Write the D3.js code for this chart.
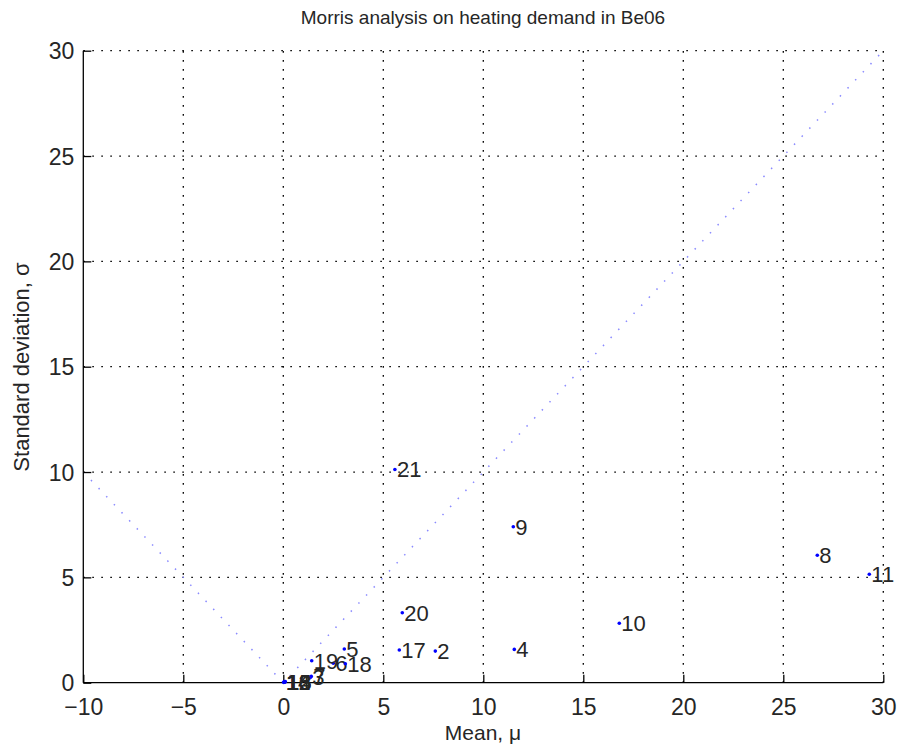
<!DOCTYPE html>
<html><head><meta charset="utf-8">
<script src="https://cdn.jsdelivr.net/npm/d3@7"></script>
<style>body{margin:0;background:#fff;} svg{display:block;font-family:"Liberation Sans",Arial,sans-serif;}</style>
</head><body>
<svg id="c" width="903" height="747"></svg>
<script>
const labels = ["1","2","3","4","5","6","7","8","9","10","11","12","13","14","15","16","17","18","19","20","21"];
const muValues = [0.05,7.6,1.35,11.55,3.05,2.5,1.4,26.7,11.5,16.8,29.3,0.05,0.1,0.02,0.08,0.05,5.8,3.1,1.42,5.95,5.58];
const sigmaValues = [0.05,1.5,0.25,1.58,1.6,0.92,0.3,6.05,7.4,2.82,5.15,0.02,0.05,0.01,0.03,0.04,1.55,0.9,1.04,3.32,10.12];
const xTicks = [-10,-5,0,5,10,15,20,25,30];
const yTicks = [0,5,10,15,20,25,30];
const refLineX = [-10,0,30];
const refLineY = [10,0,30];

const svg = d3.select("#c");
const L=83.3, R=883.3, T=50.7, B=682.7;
const x = d3.scaleLinear().domain([-10,30]).range([L,R]);
const y = d3.scaleLinear().domain([0,30]).range([B,T]);
const ink = "#262626";

// grid
const g = svg.append("g");
g.selectAll("line.gx").data(xTicks.filter(d=>d>-10)).enter().append("line")
  .attr("x1",d=>x(d)).attr("x2",d=>x(d)).attr("y1",B).attr("y2",T)
  .attr("stroke","#000").attr("stroke-width",1.3).attr("stroke-dasharray","1.6,7.4");
g.selectAll("line.gy").data(yTicks.filter(d=>d>0)).enter().append("line")
  .attr("y1",d=>y(d)).attr("y2",d=>y(d)).attr("x1",L).attr("x2",R)
  .attr("stroke","#000").attr("stroke-width",1.3).attr("stroke-dasharray","1.6,7.4");

// reference diagonal
const line = d3.line().x((d,i)=>x(refLineX[i])).y((d,i)=>y(refLineY[i]));
svg.append("path").attr("d",line(refLineX)).attr("fill","none")
  .attr("stroke","#8a8aff").attr("stroke-width",1.5).attr("stroke-dasharray","1.5,9.6");

// axes
const xAxis = d3.axisBottom(x).tickValues(xTicks).tickSize(-8).tickPadding(16)
  .tickFormat(d=>d<0?"\u2212"+Math.abs(d):d);
const gx = svg.append("g").attr("transform",`translate(0,${B})`).call(xAxis);
const yAxis = d3.axisLeft(y).tickValues(yTicks).tickSize(-8).tickPadding(9);
const gy = svg.append("g").attr("transform",`translate(${L},0)`).call(yAxis);
[gx,gy].forEach(a=>{
  a.select(".domain").attr("stroke","#000").attr("stroke-width",1.3).attr("d", a===gx?`M${L},0H${R}`:`M0,${B}V${T}`);
  a.selectAll(".tick line").attr("stroke","#000").attr("stroke-width",1.3);
  a.selectAll(".tick text").attr("fill",ink).attr("font-size",23).attr("font-family","Liberation Sans, Arial, sans-serif");
});
gx.selectAll(".tick text").attr("dy","0.71em");
gy.selectAll(".tick text").attr("dy","0.36em");

// points
const pts = svg.append("g");
labels.forEach((lab,i)=>{
  pts.append("circle").attr("cx",x(muValues[i])).attr("cy",y(sigmaValues[i])).attr("r",1.8).attr("fill","#0000ff");
  pts.append("text").attr("x",x(muValues[i])+2).attr("y",y(sigmaValues[i])).attr("dy","0.36em")
    .attr("font-size",22).attr("fill",ink).text(lab);
});

// title and labels
svg.append("text").attr("x",483).attr("y",24).attr("text-anchor","middle").attr("font-size",19).attr("fill",ink)
  .text("Morris analysis on heating demand in Be06");
svg.append("text").attr("x",483).attr("y",740).attr("text-anchor","middle").attr("font-size",21).attr("fill",ink)
  .text("Mean, \u03bc");
svg.append("text").attr("transform","translate(29,367) rotate(-90)").attr("text-anchor","middle").attr("font-size",22).attr("fill",ink)
  .text("Standard deviation, \u03c3");
</script>
</body></html>
